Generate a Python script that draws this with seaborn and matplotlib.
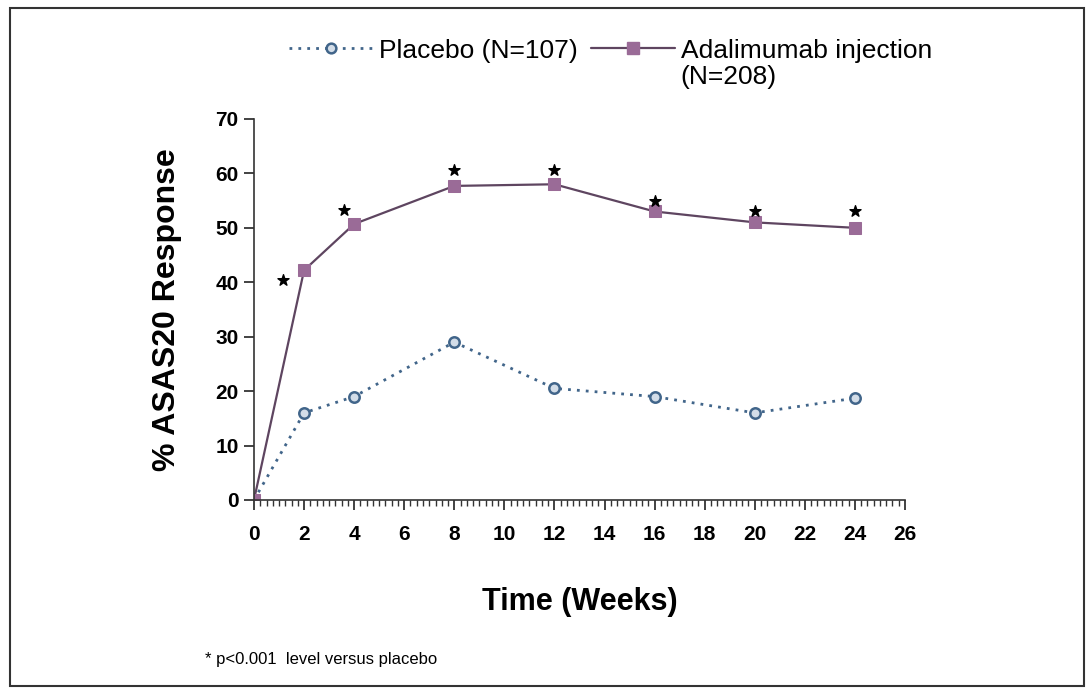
import numpy as np
import pandas as pd
import matplotlib
matplotlib.use("Agg")
import matplotlib.pyplot as plt
from matplotlib.lines import Line2D
from matplotlib.patches import Rectangle
from matplotlib.ticker import MultipleLocator
import seaborn as sns

# data
weeks = [0, 2, 4, 8, 12, 16, 20, 24]
placebo = [0, 16, 19, 29, 20.5, 19, 16, 18.7]
adalimumab = [0, 42.2, 50.7, 57.7, 58, 53, 51, 50]
star_x = [1.15, 3.6, 8, 12, 16, 20, 24]
star_y = [40.5, 53.3, 60.6, 60.6, 55, 53, 53]

placebo_label = "Placebo (N=107)"
ada_label = "Adalimumab injection"
ada_label2 = "(N=208)"
footnote = "* p<0.001  level versus placebo"

sns.set_style("ticks")
plt.rcParams['font.family'] = ['Liberation Sans', 'DejaVu Sans']
plt.rcParams['text.color'] = 'black'

placebo_color = "#41658a"
ada_line = "#5e4560"
ada_fill = "#9a6b97"

df = pd.DataFrame({"week": weeks, "placebo": placebo, "adalimumab": adalimumab})

fig = plt.figure(figsize=(10.91, 6.90), dpi=100)
ax = fig.add_axes([0.2328, 0.2754, 0.5967, 0.5522])

sns.lineplot(data=df, x="week", y="placebo", ax=ax, color=placebo_color,
             linestyle=(0, (1, 2.2)), linewidth=2.0, marker="o", markersize=7.5,
             markerfacecolor="#d3dde8", markeredgecolor=placebo_color,
             markeredgewidth=1.8)
sns.lineplot(data=df, x="week", y="adalimumab", ax=ax, color=ada_line,
             linewidth=1.6, marker="s", markersize=9,
             markerfacecolor=ada_fill, markeredgecolor=ada_fill)
ax.scatter(star_x, star_y, marker="*", s=70, color="black", zorder=5)

ax.set_xlim(0, 26)
ax.set_ylim(0, 70)
ax.xaxis.set_major_locator(MultipleLocator(2))
ax.xaxis.set_minor_locator(MultipleLocator(0.25))
ax.yaxis.set_major_locator(MultipleLocator(10))
ax.tick_params(axis="both", which="major", labelsize=15, length=7, width=1.2,
               colors="#222222", labelcolor="black")
ax.tick_params(axis="x", which="major", pad=11)
ax.tick_params(axis="y", which="major", pad=4)
ax.tick_params(axis="x", which="minor", length=4, width=1.0, colors="#333333")
for lab in ax.get_xticklabels() + ax.get_yticklabels():
    lab.set_fontweight("bold")

sns.despine(ax=ax)
for side in ["left", "bottom"]:
    ax.spines[side].set_color("#333333")
    ax.spines[side].set_linewidth(1.2)

ax.set_xlabel("Time (Weeks)", fontsize=22, fontweight="bold", labelpad=31,
              color="black")
ax.set_ylabel("% ASAS20 Response", fontsize=23, fontweight="bold", labelpad=24,
              color="black")

handles = [
    Line2D([], [], color=placebo_color, linestyle=(0, (1, 2.2)), linewidth=2.0,
           marker="o", markersize=7, markerfacecolor="#d3dde8",
           markeredgecolor=placebo_color, markeredgewidth=1.8),
    Line2D([], [], color=ada_line, linewidth=1.6, marker="s", markersize=8,
           markerfacecolor=ada_fill, markeredgecolor=ada_fill),
]
leg = fig.legend(handles, [placebo_label, ada_label], loc="upper left",
                 bbox_to_anchor=(0.265, 0.944), ncol=2, frameon=False,
                 fontsize=19, handlelength=3.2, handletextpad=0.2,
                 columnspacing=0.5, borderpad=0, borderaxespad=0)

# second line of the adalimumab label, placed under the legend text
fig.canvas.draw()
bb = leg.get_texts()[1].get_window_extent()
x0, y0 = fig.transFigure.inverted().transform((bb.x0, bb.y0))
fig.text(x0, y0 - 0.004, ada_label2, fontsize=19, va="top", ha="left")

fig.text(0.188, 0.038, footnote, fontsize=12)
fig.patches.append(Rectangle((0.009, 0.006), 0.985, 0.983, transform=fig.transFigure,
                             fill=False, edgecolor="#333333", linewidth=1.5))

fig.savefig("out.png", dpi=100)
